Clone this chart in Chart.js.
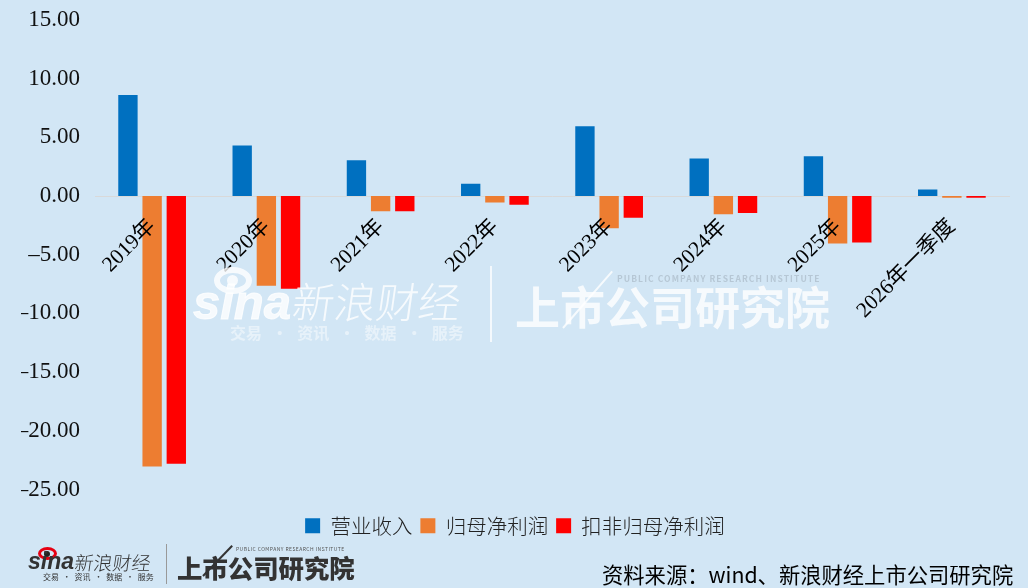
<!DOCTYPE html>
<html>
<head>
<meta charset="utf-8">
<script src="https://cdn.jsdelivr.net/npm/chart.js@4"></script>
<style>
    html, body { margin: 0; padding: 0; background: #d2e6f5; }
    #wrap { position: relative; width: 1028px; height: 588px; overflow: hidden; }
    #wrap span, #wrap i { position: absolute; white-space: nowrap; line-height: 1; font-style: normal; }
    #wrap i { display: block; box-sizing: border-box; }
    .cjk { font-family: "Noto Sans CJK SC", sans-serif; }
    #wrap .sina { font-family: "Liberation Sans", sans-serif; font-weight: 700; font-style: italic; }
    .mark { color: rgba(255,255,255,0.8); }
    .foot { color: #333; }
</style>
</head>
<body>
<div id="wrap">
    <canvas id="chart" width="1028" height="588" style="position:absolute;left:0;top:0"></canvas>

    <!-- watermark -->
    <i style="left:214px;top:267px;width:38px;height:27px;border:6px solid rgba(255,255,255,.8);border-radius:50%"></i>
    <i style="left:227px;top:275px;width:11px;height:11px;background:rgba(255,255,255,.8);border-radius:50%"></i>
    <span class="mark sina" style="left:193px;top:278px;font-size:49px;-webkit-text-stroke:1px rgba(255,255,255,.8);">sina</span>
    <span class="mark cjk" style="left:293px;top:279px;font-size:42px;font-weight:300;transform:skewX(-8deg);">新浪财经</span>
    <span class="mark cjk" style="left:230px;top:324px;font-size:16px;font-weight:700;opacity:.6;word-spacing:6px;">交易 · 资讯 · 数据 · 服务</span>
    <i style="left:490px;top:266px;width:2px;height:76px;background:rgba(255,255,255,.75)"></i>
    <span class="mark cjk" style="left:515px;top:283px;font-size:45px;font-weight:700;">上市公司研究院</span>
    <i style="left:563px;top:327px;width:75px;height:2px;background:rgba(255,255,255,.8);transform-origin:left center;transform:rotate(-49deg)"></i>
    <span class="cjk" style="left:617px;top:274px;font-size:8.5px;font-weight:700;color:rgba(120,130,140,.3);letter-spacing:1.1px;">PUBLIC COMPANY RESEARCH INSTITUTE</span>

    <!-- footer logo -->
    <i style="left:38px;top:547px;width:19px;height:13px;border:3px solid #e60012;border-radius:50%"></i>
    <i style="left:44px;top:551px;width:6px;height:6px;background:#222;border-radius:50%"></i>
    <span class="foot sina" style="left:28px;top:550px;font-size:23px;">sina</span>
    <span class="foot cjk" style="left:75px;top:552px;font-size:19px;font-weight:300;transform:skewX(-8deg);">新浪财经</span>
    <span class="foot cjk" style="left:43px;top:573px;font-size:8px;word-spacing:2px;">交易 · 资讯 · 数据 · 服务</span>
    <i style="left:166px;top:544px;width:1px;height:40px;background:#999"></i>
    <span class="foot cjk" style="left:177px;top:555px;font-size:25.4px;font-weight:900;">上市公司研究院</span>
    <i style="left:203px;top:575px;width:42px;height:2px;background:#333;transform-origin:left center;transform:rotate(-46deg)"></i>
    <span class="cjk" style="left:236px;top:546px;font-size:5px;color:#555;letter-spacing:.45px;">PUBLIC COMPANY RESEARCH INSTITUTE</span>

    <span class="cjk" style="left:602px;top:563px;font-size:21.3px;color:#000;">资料来源：wind、新浪财经上市公司研究院</span>
</div>
<script>
const categories = ['2019年', '2020年', '2021年', '2022年', '2023年', '2024年', '2025年', '2026年一季度'];
const revenue = [8.6, 4.3, 3.05, 1.05, 5.95, 3.2, 3.4, 0.55];
const netProfit = [-23.05, -7.65, -1.3, -0.55, -2.75, -1.55, -4.05, -0.15];
const deductedProfit = [-22.8, -7.9, -1.3, -0.75, -1.85, -1.45, -3.95, -0.15];
const seriesNames = ['营业收入', '归母净利润', '扣非归母净利润'];
const seriesColors = ['#0070c0', '#ed7d31', '#ff0000'];

const seriesValues = [revenue, netProfit, deductedProfit];

new Chart(document.getElementById('chart'), {
    type: 'bar',
    data: {
        labels: categories,
        datasets: seriesNames.map((name, i) => ({
            label: name,
            data: seriesValues[i],
            backgroundColor: seriesColors[i],
            categoryPercentage: 0.635,
            barPercentage: 0.8
        }))
    },
    options: {
        responsive: false,
        animation: false,
        layout: { padding: { top: 20, right: 19, bottom: 42, left: 21 } },
        plugins: {
            tooltip: { enabled: false },
            // empty title only pushes the legend down from the plot
            title: {
                display: true, text: '', position: 'bottom', weight: 500,
                font: { size: 1, lineHeight: 1 }, padding: { top: 17, bottom: 0 }
            },
            legend: {
                position: 'bottom',
                labels: {
                    boxWidth: 15, boxHeight: 15, padding: 8, color: '#222',
                    font: { family: '"Noto Sans CJK SC"', size: 20.5, weight: '300' }
                }
            }
        },
        scales: {
            x: {
                position: { y: 0 },
                afterFit(scale) { scale.paddingTop = 0; scale.paddingBottom = 0; },
                grid: { display: false },
                border: { display: true, color: '#d9d9d9', width: 1 },
                ticks: {
                    autoSkip: false, minRotation: 45, maxRotation: 45, padding: 10, color: '#000', z: 1,
                    font: { family: '"Liberation Serif", "Noto Sans CJK SC"', size: 21.5 }
                }
            },
            y: {
                min: -25, max: 15,
                afterFit(scale) { scale.width = 74; scale.paddingTop = 0; scale.paddingBottom = 0; },
                grid: { display: false, drawTicks: false },
                border: { display: false },
                ticks: {
                    stepSize: 5, padding: 15, color: '#111',
                    font: { family: '"Liberation Serif"', size: 23 },
                    callback: v => v.toFixed(2).replace('-', '–')
                }
            }
        }
    }
});
</script>
</body>
</html>
